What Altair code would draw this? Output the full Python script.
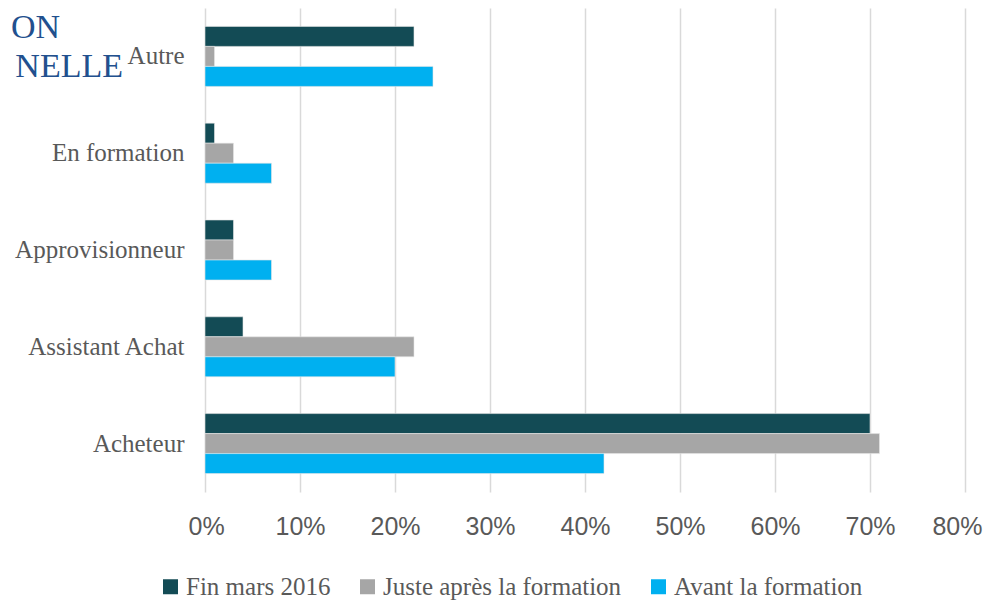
import altair as alt
import pandas as pd

categories = ["Autre", "En formation", "Approvisionneur", "Assistant Achat", "Acheteur"]
series = ["Fin mars 2016", "Juste après la formation", "Avant la formation"]
fin_mars_2016 = [22, 1, 3, 4, 70]
juste_apres = [1, 3, 3, 22, 71]
avant = [24, 7, 7, 20, 42]
colors = ["#134B55", "#A6A6A6", "#00B0F0"]
tick_values = [0, 0.1, 0.2, 0.3, 0.4, 0.5, 0.6, 0.7, 0.8]

rows = []
for s, vals in zip(series, [fin_mars_2016, juste_apres, avant]):
    for c, v in zip(categories, vals):
        rows.append({"cat": c, "serie": s, "val": v / 100})
df = pd.DataFrame(rows)

bars = alt.Chart(df).mark_bar(stroke="#E6E6E6", strokeWidth=0.6).encode(
    x=alt.X("val:Q", scale=alt.Scale(domain=[0, 0.8], nice=False),
            axis=alt.Axis(values=tick_values, format=".0%", title=None, ticks=False,
                          domain=False, labelFont="Liberation Sans", labelFontSize=25,
                          labelColor="#595959", labelPadding=22, gridColor="#D9D9D9",
                          gridWidth=1.5, labelFlush=True, labelFlushOffset=17)),
    y=alt.Y("cat:N", sort=categories,
            scale=alt.Scale(paddingInner=0.38, paddingOuter=0.19),
            axis=alt.Axis(title=None, ticks=False, domain=False, labelFont="Liberation Serif",
                          labelFontSize=25, labelColor="#595959", labelPadding=21,
                          labelLimit=300)),
    yOffset=alt.YOffset("serie:N", sort=series),
    color=alt.Color("serie:N", sort=series,
                    scale=alt.Scale(domain=series, range=colors),
                    legend=alt.Legend(title=None, orient="none", direction="horizontal",
                                      legendX=-47, legendY=566, symbolType="square",
                                      symbolSize=225, symbolStrokeWidth=0,
                                      labelFont="Liberation Serif", labelFontSize=25,
                                      labelColor="#595959", labelOffset=3,
                                      columnPadding=24, labelLimit=400)),
)

deco1 = alt.Chart(pd.DataFrame({"t": ["ON"]})).mark_text(
    font="Liberation Serif", fontSize=34, color="#22508E", align="right", baseline="alphabetic"
).encode(text="t:N", x=alt.value(-145), y=alt.value(30))

deco2 = alt.Chart(pd.DataFrame({"t": ["NELLE"]})).mark_text(
    font="Liberation Serif", fontSize=34, color="#22508E", align="right", baseline="alphabetic"
).encode(text="t:N", x=alt.value(-82), y=alt.value(69))

chart = alt.layer(bars, deco1, deco2).properties(
    width=760, height=484,
    autosize=alt.AutoSizeParams(type="none"),
    padding={"left": 197, "top": 0, "right": 19, "bottom": 109},
).configure_view(stroke=None)

chart.save("out.html", embed_options={"renderer": "svg", "actions": False})
